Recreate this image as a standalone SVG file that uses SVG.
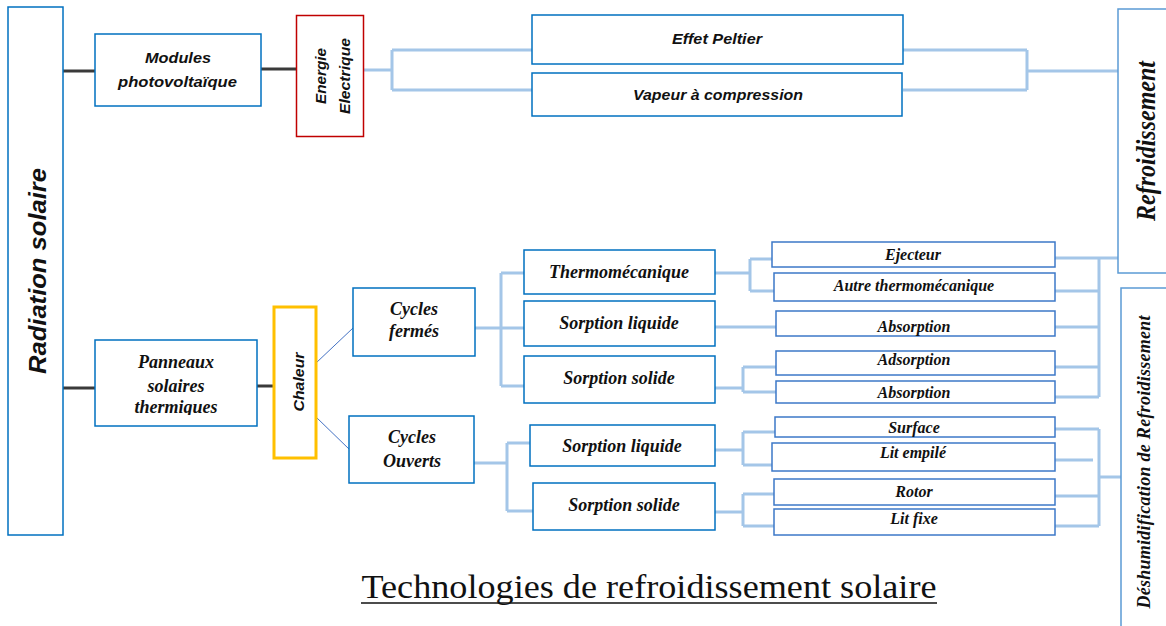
<svg xmlns="http://www.w3.org/2000/svg" width="1166" height="626" viewBox="0 0 1166 626">
  <defs>
    <style>
      .box { fill: #ffffff; stroke: #0070c0; stroke-width: 1.5; }
      .sbox { fill: #ffffff; stroke: #3c78c8; stroke-width: 1.5; }
      .sans { font-family: "Liberation Sans", Arial, sans-serif; font-weight: bold; font-style: italic; fill: #111111; }
      .serif { font-family: "Liberation Serif", "Times New Roman", serif; font-weight: bold; font-style: italic; fill: #111111; }
      .lbl { font-size: 18px; text-anchor: middle; }
      .small { font-size: 16px; text-anchor: middle; }
      .dark { fill: none; stroke: #3a3a3a; stroke-width: 3; }
      .thin { fill: none; stroke: #4472c4; stroke-width: 1; }
      .soft { fill: none; stroke: #a4c6e8; stroke-width: 3; }
    </style>
    <clipPath id="clip-panneaux"><rect x="95" y="340" width="162" height="75"/></clipPath>
    <clipPath id="clip-absorption2"><rect x="776" y="381" width="279" height="18"/></clipPath>
  </defs>

  <rect x="0" y="0" width="1166" height="626" fill="#ffffff"/>

  <!-- connectors -->
  <g id="connectors">
    <path class="dark" d="M63 71 H95 M261 69 H296 M63 388 H95 M257 386 H274"/>
    <path class="thin" d="M316 363 L353 328 M316 417 L350 450"/>
    <!-- electric branch -->
    <path class="soft" d="M363 70 H392 M392 50 V90 M392 50 H532 M392 90 H532"/>
    <path class="soft" d="M903 50 H1027 M903 90 H1027 M1027 50 V90 M1027 71 H1118"/>
    <!-- closed cycles -->
    <path class="soft" d="M475 328 H524 M501 273 V386 M501 273 H524 M501 386 H524"/>
    <path class="soft" d="M715 273 H750 M750 259 V291 M750 259 H772 M750 291 H774"/>
    <path class="soft" d="M715 327 H776"/>
    <path class="soft" d="M715 388 H743 M743 367 V392 M743 367 H776 M743 392 H776"/>
    <path class="soft" d="M1055 258 H1099 M1055 291 H1099 M1055 327 H1099 M1055 367 H1099 M1055 397 H1099 M1099 258 V397 M1099 258 H1118"/>
    <!-- open cycles -->
    <path class="soft" d="M474 463 H507 M507 443 V511 M507 443 H530 M507 511 H533"/>
    <path class="soft" d="M715 450 H743 M743 432 V465 M743 432 H775 M743 465 H772"/>
    <path class="soft" d="M715 512 H743 M743 494 V526 M743 494 H774 M743 526 H774"/>
    <path class="soft" d="M1055 429 H1099 M1055 460 H1093 M1055 496 H1099 M1055 526 H1099 M1099 429 V526 M1099 477 H1121"/>
  </g>

  <!-- source -->
  <g id="radiation">
    <rect class="box" x="8" y="7" width="55" height="528"/>
    <text class="sans" font-size="24" text-anchor="middle" transform="translate(46 271) rotate(-90)" textLength="206" lengthAdjust="spacingAndGlyphs">Radiation solaire</text>
  </g>

  <!-- electric path -->
  <g id="modules-pv">
    <rect class="box" x="95" y="34" width="166" height="72"/>
    <text class="sans" font-size="15.5" text-anchor="middle" x="178" y="63" textLength="66" lengthAdjust="spacingAndGlyphs">Modules</text>
    <text class="sans" font-size="15.5" text-anchor="middle" x="177.5" y="87" textLength="119" lengthAdjust="spacingAndGlyphs">photovoltaïque</text>
  </g>

  <g id="energie-electrique">
    <rect x="296.5" y="15.5" width="67" height="121" fill="#ffffff" stroke="#c00000" stroke-width="1.5"/>
    <text class="sans" font-size="14.5" text-anchor="middle" transform="translate(326 76) rotate(-90)" textLength="56" lengthAdjust="spacingAndGlyphs">Energie</text>
    <text class="sans" font-size="14.5" text-anchor="middle" transform="translate(350 76) rotate(-90)" textLength="76" lengthAdjust="spacingAndGlyphs">Electrique</text>
  </g>

  <g id="effet-peltier">
    <rect class="box" x="532" y="15" width="371" height="49"/>
    <text class="sans" font-size="15.5" text-anchor="middle" x="717" y="44" textLength="90" lengthAdjust="spacingAndGlyphs">Effet Peltier</text>
  </g>

  <g id="vapeur-compression">
    <rect class="box" x="532" y="73" width="370" height="43"/>
    <text class="sans" font-size="15.5" text-anchor="middle" x="718" y="100" textLength="170" lengthAdjust="spacingAndGlyphs">Vapeur à compression</text>
  </g>

  <g id="refroidissement">
    <rect x="1118" y="9" width="60" height="264" fill="#ffffff" stroke="#5b9bd5" stroke-width="1.5"/>
    <text class="serif" font-size="28" text-anchor="middle" transform="translate(1155 141) rotate(-90)" textLength="160" lengthAdjust="spacingAndGlyphs">Refroidissement</text>
  </g>

  <!-- thermal path -->
  <g id="panneaux-thermiques">
    <rect class="box" x="95" y="340" width="162" height="86"/>
    <g clip-path="url(#clip-panneaux)">
      <text class="serif lbl" x="176" y="368">Panneaux</text>
      <text class="serif lbl" x="176" y="392">solaires</text>
      <text class="serif lbl" x="176" y="413">thermiques</text>
    </g>
  </g>

  <g id="chaleur">
    <rect x="274" y="307" width="42" height="151" fill="#ffffff" stroke="#ffc000" stroke-width="3"/>
    <text class="sans" font-size="15" text-anchor="middle" transform="translate(304 382) rotate(-90)" textLength="59" lengthAdjust="spacingAndGlyphs">Chaleur</text>
  </g>

  <g id="cycles-fermes">
    <rect class="box" x="353" y="288" width="122" height="68"/>
    <text class="serif lbl" x="414" y="315">Cycles</text>
    <text class="serif lbl" x="414" y="337">fermés</text>
  </g>

  <g id="cycles-ouverts">
    <rect class="box" x="349" y="416" width="125" height="67"/>
    <text class="serif lbl" x="412" y="443">Cycles</text>
    <text class="serif lbl" x="412" y="467">Ouverts</text>
  </g>

  <g id="thermomecanique">
    <rect class="box" x="524" y="250" width="191" height="44"/>
    <text class="serif lbl" x="619" y="278">Thermomécanique</text>
  </g>

  <g id="sorption-liquide-f">
    <rect class="box" x="524" y="301" width="191" height="45"/>
    <text class="serif lbl" x="619" y="329">Sorption liquide</text>
  </g>

  <g id="sorption-solide-f">
    <rect class="box" x="524" y="356" width="191" height="47"/>
    <text class="serif lbl" x="619" y="384">Sorption solide</text>
  </g>

  <g id="sorption-liquide-o">
    <rect class="box" x="530" y="425" width="185" height="41"/>
    <text class="serif lbl" x="622" y="452">Sorption liquide</text>
  </g>

  <g id="sorption-solide-o">
    <rect class="box" x="533" y="483" width="182" height="47"/>
    <text class="serif lbl" x="624" y="511">Sorption solide</text>
  </g>

  <!-- closed-cycle technologies -->
  <g id="ejecteur">
    <rect class="sbox" x="772" y="242" width="283" height="25"/>
    <text class="serif small" x="913" y="260">Ejecteur</text>
  </g>

  <g id="autre-thermomecanique">
    <rect class="sbox" x="774" y="273" width="281" height="28"/>
    <text class="serif small" x="914" y="291">Autre thermomécanique</text>
  </g>

  <g id="absorption-1">
    <rect class="sbox" x="776" y="311" width="279" height="25"/>
    <text class="serif small" x="914" y="332">Absorption</text>
  </g>

  <g id="adsorption">
    <rect class="sbox" x="776" y="351" width="279" height="24"/>
    <text class="serif small" x="914" y="365">Adsorption</text>
  </g>

  <g id="absorption-2">
    <rect class="sbox" x="776" y="381" width="279" height="22"/>
    <g clip-path="url(#clip-absorption2)">
      <text class="serif small" x="914" y="398">Absorption</text>
    </g>
  </g>

  <!-- open-cycle technologies -->
  <g id="surface">
    <rect class="sbox" x="775" y="417" width="280" height="20"/>
    <text class="serif small" x="914" y="433">Surface</text>
  </g>

  <g id="lit-empile">
    <rect class="sbox" x="772" y="443" width="283" height="28"/>
    <text class="serif small" x="913" y="458">Lit empilé</text>
  </g>

  <g id="rotor">
    <rect class="sbox" x="774" y="479" width="281" height="26"/>
    <text class="serif small" x="914" y="497">Rotor</text>
  </g>

  <g id="lit-fixe">
    <rect class="sbox" x="774" y="509" width="281" height="26"/>
    <text class="serif small" x="914" y="524">Lit fixe</text>
  </g>

  <g id="deshumidification">
    <rect x="1121" y="288" width="60" height="350" fill="#ffffff" stroke="#5b9bd5" stroke-width="1.5"/>
    <text class="serif" font-size="18" text-anchor="middle" transform="translate(1150 462) rotate(-90)" textLength="293">Déshumidification de Refroidissement</text>
  </g>

  <!-- caption -->
  <g id="caption">
    <text x="649" y="598" font-family="Liberation Serif, Times New Roman, serif" font-size="34" text-anchor="middle" fill="#111111" textLength="575" lengthAdjust="spacingAndGlyphs">Technologies de refroidissement solaire</text>
    <line x1="361" y1="603" x2="937" y2="603" stroke="#111111" stroke-width="1.5"/>
  </g>
</svg>
